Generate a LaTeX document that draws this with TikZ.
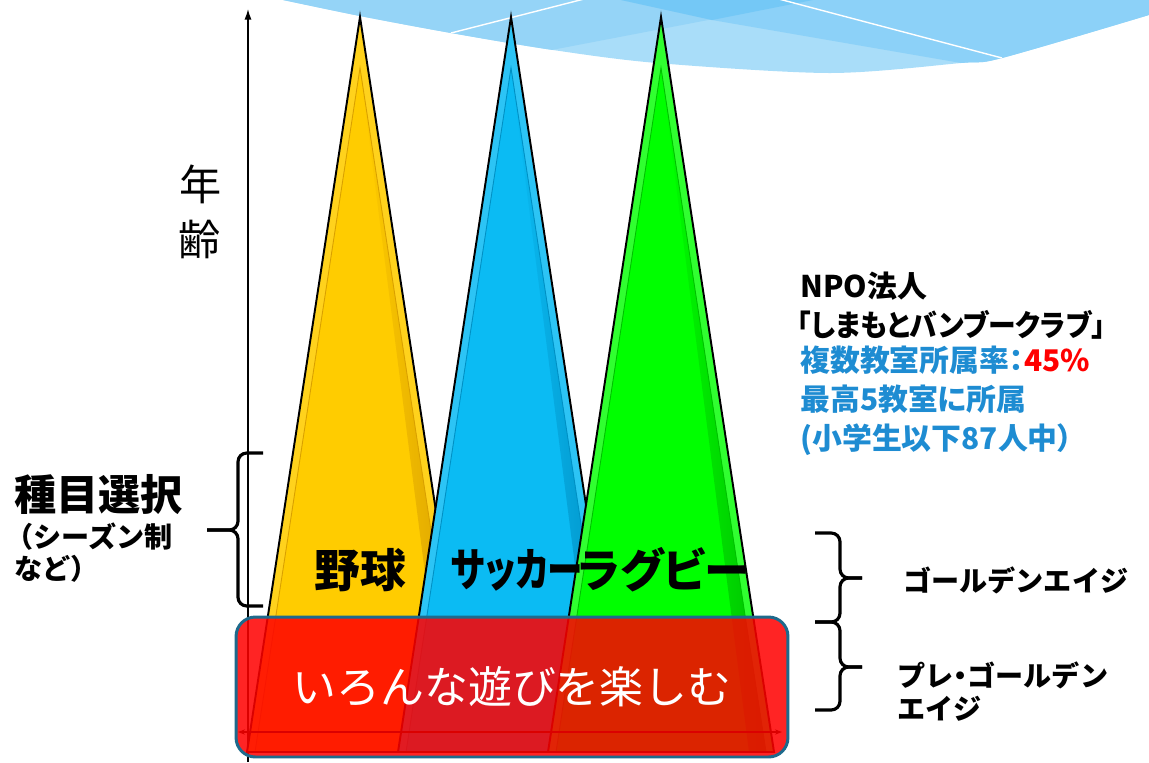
\documentclass[tikz,border=0pt]{standalone}
\usepackage{fontspec}
\setmainfont{Liberation Sans}
\newfontfamily\jp{Noto Sans CJK JP}
\newfontfamily\jpp{Noto Sans CJK JP}[RawFeature=+palt]
\usetikzlibrary{arrows.meta}

\definecolor{bnlight}{HTML}{A9DDF9}
\definecolor{bnleft}{HTML}{95D4F7}
\definecolor{bnright}{HTML}{8CD1F8}
\definecolor{bndark}{HTML}{74C8F6}
\definecolor{ybase}{HTML}{FFCC00}
\definecolor{ylight}{HTML}{FFD21C}
\definecolor{ydark}{HTML}{D9A000}
\definecolor{bbase}{HTML}{0BBBF3}
\definecolor{blight}{HTML}{2CC4F5}
\definecolor{bdark}{HTML}{0090C4}
\definecolor{gbase}{HTML}{00FF00}
\definecolor{glight}{HTML}{30FF30}
\definecolor{gdark}{HTML}{00C000}
\definecolor{boxline}{HTML}{1E6A8C}
\definecolor{infoblue}{HTML}{1E8CD2}

\tikzstyle{axis} = [line width=0.8pt, -{Latex[length=6pt,width=4pt]}]
\tikzstyle{brace} = [line width=1.8pt, rounded corners=5pt]
\tikzstyle{sport} = [inner sep=0pt, font=\jpp\bfseries\fontsize{26}{30}\selectfont]
\tikzstyle{info} = [anchor=west, inner sep=0pt, font=\jpp\bfseries\fontsize{17}{20}\selectfont]
\tikzstyle{side} = [anchor=west, inner sep=0pt, font=\jp\bfseries\fontsize{16}{20}\selectfont]
\tikzstyle{playbox} = [draw=boxline, line width=1.7pt, rounded corners=11pt, fill=red, fill opacity=0.86, draw opacity=1, text opacity=1, text=white, minimum width=11.04cm, minimum height=2.8cm, font=\jp\fontsize{25}{30}\selectfont]

\newcommand{\cone}[4]{
	\fill[#3] (#1,17) -- (#1-113,752) -- (#1+113,752) -- cycle;
	\fill[#2] (#1,68) -- (#1-105,752) -- (#1+105,752) -- cycle;
	\shade[left color=#2, right color=#4] (#1,68) -- (#1+105,752) -- (#1+88,752) -- cycle;
	\draw[#4, line width=0.5pt] (#1,68) -- (#1-105,752) -- (#1+105,752) -- cycle;
	\draw[line width=1.1pt] (#1,17) -- (#1-113,752) -- (#1+113,752) -- cycle;
}

\begin{document}
\begin{tikzpicture}[x=0.02cm, y=-0.02cm]
	\useasboundingbox (0,0) rectangle (1149,762);

	\begin{scope}
		\clip (283,-2) -- plot[smooth] coordinates {(283,0) (360,16) (451,33) (553,50) (657,63) (830,73) (961,63) (1002,58) (1149,15)} -- (1151,-2) -- cycle;
		\fill[bnlight] (280,-2) rectangle (1151,80);
		\fill[bnleft] (280,-2) -- (280,102) -- (823,-2) -- cycle;
		\fill[bnright] (612,-2) -- (712,20) -- (961,63) -- (1151,95) -- (1151,-2) -- cycle;
		\fill[bndark] (612,-2) -- (712,20) -- (823,-2) -- cycle;
		\draw[white, line width=0.8pt] (451,33) -- (588,-2);
		\draw[white, line width=0.8pt] (775,-2) -- (1002,58);
	\end{scope}

	\coordinate (agebot) at (248,762);
	\coordinate (agetop) at (248,9);
	\draw[axis] (agebot) -- (agetop);

	\cone{360}{ybase}{ylight}{ydark}
	\cone{511}{bbase}{blight}{bdark}
	\cone{661}{gbase}{glight}{gdark}

	\coordinate (wl) at (238,732);
	\coordinate (wr) at (782,732);
	\draw[line width=0.6pt, {Stealth[length=4pt]}-{Stealth[length=4pt]}] (wl) -- (wr);

	\node[playbox] (play) at (512,687) {いろんな遊びを楽しむ};

	\node[sport] (yakyu) at (360,570) {野球};
	\node[sport] (soccer) at (517,570) {\scalebox{0.78}[1]{サッカー}};
	\node[sport] (rugby) at (664,570) {ラグビー};

	\node[inner sep=0pt, font=\jp\fontsize{24}{28}\selectfont] (nen) at (201,184) {年};
	\node[inner sep=0pt, font=\jp\fontsize{24}{28}\selectfont] (rei) at (200,239) {齢};

	\node[anchor=west, inner sep=0pt, font=\jp\bfseries\fontsize{24}{28}\selectfont] (pick) at (14,495) {種目選択};
	\node[anchor=west, inner sep=0pt, font=\jp\bfseries\fontsize{16}{20}\selectfont] (season) at (5,537) {（シーズン制};
	\node[anchor=west, inner sep=0pt, font=\jp\bfseries\fontsize{16}{20}\selectfont] (etc) at (14,569) {など）};

	\draw[brace] (263,453) -- (238,453) -- (238,530) -- (207,530);
	\draw[brace] (207,530) -- (238,530) -- (238,606) -- (263,606);

	\draw[brace] (815,533) -- (840,533) -- (840,578) -- (862,578);
	\draw[brace] (862,578) -- (840,578) -- (840,622) -- (815,622);
	\draw[brace] (815,622) -- (840,622) -- (840,667) -- (862,667);
	\draw[brace] (862,667) -- (840,667) -- (840,710) -- (815,710);

	\node[side] (golden) at (903,580) {ゴールデンエイジ};
	\node[side] (pre) at (897,675) {プレ{\jpp ・}ゴールデン};
	\node[side] (pre2) at (897,709) {エイジ};

	\node[info] (npo) at (800,286) {NPO法人};
	\node[info] (club) at (797,325) {\scalebox{0.93}[1]{「しまもとバンブークラブ」}};
	\node[info, text=infoblue] (rate) at (800,360) {複数教室所属率：\textcolor{red}{45\%}};
	\node[info, text=infoblue] (maxc) at (800,399) {最高5教室に所属};
	\node[info, text=infoblue] (kids) at (800,440) {(小学生以下87人中）};
\end{tikzpicture}
\end{document}
